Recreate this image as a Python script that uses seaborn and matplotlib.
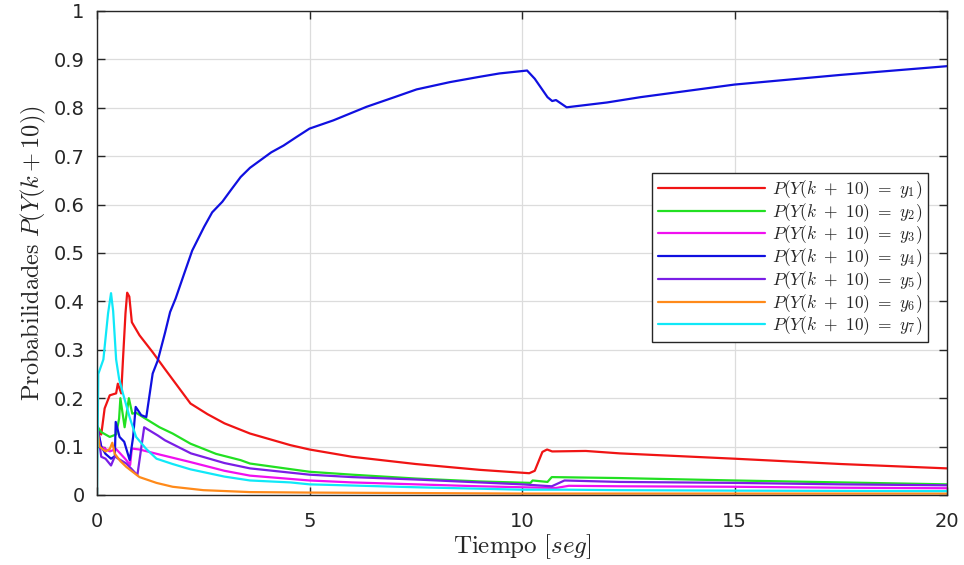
import numpy as np
import pandas as pd
import matplotlib
matplotlib.use("Agg")
import matplotlib.pyplot as plt
import seaborn as sns

# ---- data ----
t_y1 = [0, 0.05, 0.1, 0.18, 0.3, 0.45, 0.49, 0.57, 0.61, 0.67, 0.71, 0.76, 0.82, 1.0, 1.31, 1.6, 2.2, 2.6, 3.0, 3.6, 4.55, 5.0, 6.0, 7.5, 9.0, 10.17, 10.3, 10.48, 10.59, 10.71, 11.5, 12.3, 15, 17.5, 20]
p_y1 = [0.143, 0.13, 0.125, 0.179, 0.206, 0.21, 0.23, 0.21, 0.278, 0.375, 0.418, 0.41, 0.357, 0.33, 0.295, 0.26, 0.189, 0.167, 0.148, 0.127, 0.103, 0.094, 0.079, 0.064, 0.052, 0.045, 0.05, 0.089, 0.094, 0.09, 0.091, 0.086, 0.075, 0.064, 0.055]

t_y2 = [0, 0.1, 0.3, 0.45, 0.52, 0.55, 0.65, 0.75, 0.83, 0.92, 1.08, 1.47, 1.78, 2.2, 2.8, 3.38, 3.6, 5.0, 6.0, 7.5, 9.0, 10.2, 10.25, 10.6, 10.7, 11.5, 12.3, 15, 17.5, 20]
p_y2 = [0.143, 0.13, 0.12, 0.125, 0.158, 0.2, 0.14, 0.2, 0.168, 0.17, 0.161, 0.14, 0.127, 0.106, 0.085, 0.072, 0.065, 0.048, 0.042, 0.034, 0.028, 0.025, 0.03, 0.027, 0.037, 0.036, 0.035, 0.030, 0.026, 0.022]

t_y3 = [0, 0.1, 0.3, 0.45, 0.67, 0.78, 0.82, 1.0, 1.5, 2.2, 3.0, 3.6, 5.0, 6.0, 7.5, 9.0, 10.0, 10.8, 11.1, 12.3, 15, 17.5, 20]
p_y3 = [0.143, 0.1, 0.09, 0.095, 0.074, 0.062, 0.096, 0.094, 0.083, 0.068, 0.05, 0.04, 0.03, 0.026, 0.022, 0.018, 0.016, 0.0145, 0.019, 0.018, 0.017, 0.015, 0.014]

t_y4 = [0, 0.1, 0.2, 0.33, 0.42, 0.44, 0.53, 0.64, 0.77, 0.85, 0.91, 1.04, 1.16, 1.31, 1.43, 1.6, 1.72, 1.85, 2.05, 2.24, 2.52, 2.71, 2.95, 3.15, 3.38, 3.6, 3.85, 4.1, 4.39, 4.7, 5.0, 5.56, 6.34, 7.0, 7.52, 8.3, 9.0, 9.47, 10.12, 10.3, 10.6, 10.71, 10.8, 11.05, 12.0, 12.79, 15, 17.5, 20]
p_y4 = [0.143, 0.10, 0.085, 0.075, 0.08, 0.151, 0.12, 0.11, 0.072, 0.12, 0.182, 0.165, 0.161, 0.251, 0.278, 0.335, 0.378, 0.406, 0.457, 0.505, 0.554, 0.584, 0.606, 0.630, 0.657, 0.676, 0.692, 0.708, 0.722, 0.74, 0.757, 0.774, 0.802, 0.822, 0.838, 0.853, 0.864, 0.871, 0.877, 0.86, 0.822, 0.814, 0.816, 0.801, 0.811, 0.822, 0.848, 0.868, 0.886]

t_y5 = [0, 0.1, 0.2, 0.33, 0.42, 0.5, 0.69, 0.8, 0.95, 1.11, 1.43, 1.6, 2.21, 3.0, 3.6, 5.0, 6.0, 7.5, 9.0, 10.0, 10.7, 11.0, 12.3, 15, 17.5, 20]
p_y5 = [0.143, 0.079, 0.075, 0.061, 0.08, 0.075, 0.065, 0.055, 0.041, 0.14, 0.123, 0.113, 0.086, 0.066, 0.055, 0.042, 0.037, 0.032, 0.026, 0.022, 0.018, 0.030, 0.027, 0.025, 0.022, 0.02]

t_y6 = [0, 0.06, 0.2, 0.3, 0.36, 0.42, 0.55, 0.69, 1.0, 1.4, 1.78, 2.5, 3.6, 5, 7.5, 10, 15, 20]
p_y6 = [0.143, 0.10, 0.09, 0.095, 0.108, 0.085, 0.07, 0.058, 0.037, 0.025, 0.017, 0.01, 0.006, 0.005, 0.004, 0.003, 0.003, 0.003]

t_y7 = [0, 0.03, 0.15, 0.26, 0.33, 0.38, 0.45, 0.52, 0.61, 0.77, 0.92, 1.16, 1.4, 1.78, 2.2, 3.0, 3.6, 4.55, 5.0, 7.5, 10, 11, 12.3, 15, 20]
p_y7 = [0.0, 0.25, 0.28, 0.375, 0.417, 0.38, 0.28, 0.24, 0.21, 0.16, 0.12, 0.095, 0.075, 0.064, 0.053, 0.038, 0.03, 0.026, 0.022, 0.016, 0.011, 0.011, 0.010, 0.009, 0.008]

labels = [r'$P(Y(k\ +\ 10)\ =\ y_{%d})$' % i for i in range(1, 8)]
x_ticks = [0, 5, 10, 15, 20]
y_ticks = [0, 0.1, 0.2, 0.3, 0.4, 0.5, 0.6, 0.7, 0.8, 0.9, 1]
y_ticklabels = ['0', '0.1', '0.2', '0.3', '0.4', '0.5', '0.6', '0.7', '0.8', '0.9', '1']

series_t = [t_y1, t_y2, t_y3, t_y4, t_y5, t_y6, t_y7]
series_p = [p_y1, p_y2, p_y3, p_y4, p_y5, p_y6, p_y7]
colors = ['#f01414', '#22e022', '#f010f0', '#1010e0', '#7a1ee6', '#ff8a1a', '#10e8f8']

# ---- style ----
sns.set_theme(style="white")
plt.rcParams['font.family'] = ['DejaVu Sans']
plt.rcParams['mathtext.fontset'] = 'cm'

fig = plt.figure(figsize=(9.64, 5.65), dpi=100)
ax = fig.add_axes([97 / 964, 1 - 495 / 565, (947 - 97) / 964, (495 - 11) / 565])

for t, p, c, lab in zip(series_t, series_p, colors, labels):
    df = pd.DataFrame({'t': t, 'p': p})
    sns.lineplot(data=df, x='t', y='p', ax=ax, color=c, linewidth=1.6,
                 label=lab, estimator=None, sort=False)

ax.set_xlim(0, 20)
ax.set_ylim(0, 1)
ax.set_xticks(x_ticks)
ax.set_xticklabels([str(v) for v in x_ticks])
ax.set_yticks(y_ticks)
ax.set_yticklabels(y_ticklabels)
ax.grid(True, color='#dcdcdc', linewidth=0.9)
ax.set_axisbelow(True)
for s in ax.spines.values():
    s.set_color('#262626')
    s.set_linewidth(1.0)
ax.tick_params(direction='in', length=6, width=1, color='#262626',
               top=True, right=True, bottom=True, left=True,
               labelsize=14, labelcolor='#262626')
ax.tick_params(axis='x', pad=12)
ax.tick_params(axis='y', pad=9)

ax.set_xlabel(r'$\mathrm{Tiempo}\ [seg]$', fontsize=18, color='#262626', labelpad=1)
ax.set_ylabel(r'$\mathrm{Probabilidades}\ P(Y(k+10))$', fontsize=17.5, color='#262626', labelpad=4)

x0 = (637 + 943) / 2
leg = ax.legend(loc='upper center',
                bbox_to_anchor=((x0 - 97) / (947 - 97), (495 - 173) / (495 - 11)),
                fontsize=12.5, frameon=True, fancybox=False, handlelength=6.2,
                handletextpad=0.4, borderpad=0.3, labelspacing=0.0, borderaxespad=0)
leg.get_frame().set_edgecolor('#262626')
leg.get_frame().set_linewidth(1.0)
leg.get_frame().set_alpha(1)

fig.savefig('out.png', dpi=100)
